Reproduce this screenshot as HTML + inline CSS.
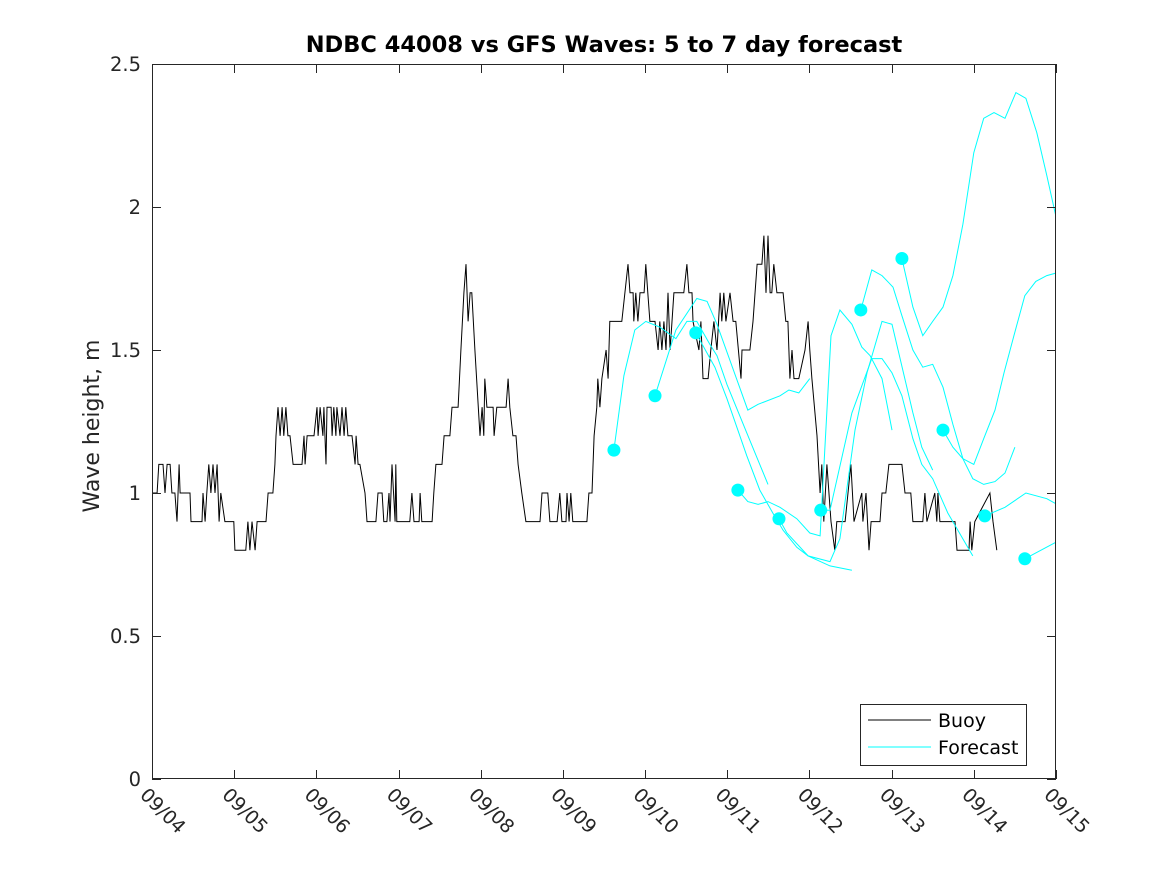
<!DOCTYPE html>
<html><head><meta charset="utf-8"><style>
html,body{margin:0;padding:0;background:#fff;}
svg{display:block;font-family:"DejaVu Sans","Liberation Sans",sans-serif;}
</style></head><body>
<svg id="chart" width="1167" height="875" viewBox="0 0 1167 875" xmlns="http://www.w3.org/2000/svg">
<defs><clipPath id="plotclip"><rect x="152" y="64" width="904" height="715"/></clipPath></defs>
<rect x="0" y="0" width="1167" height="875" fill="#fff"/>
<rect x="152" y="64" width="904" height="715" fill="#fff" stroke="none"/>
<g id="marks" clip-path="url(#plotclip)"></g>
<rect x="152.5" y="64.5" width="903" height="714" fill="none" stroke="#262626" stroke-width="1"/>
<g id="axes"></g>
<text x="604" y="52" text-anchor="middle" font-size="22.5" font-weight="bold" fill="#000">NDBC 44008 vs GFS Waves: 5 to 7 day forecast</text>
<text transform="translate(99,426) rotate(-90)" text-anchor="middle" font-size="22" fill="#262626">Wave height, m</text>
<g>
<rect x="860.5" y="704.5" width="166" height="61" fill="#fff" stroke="#262626" stroke-width="1"/>
<g>
<line x1="868" y1="720" x2="931" y2="720" stroke="#000" stroke-width="1"/>
<text x="938" y="727" font-size="19" fill="#000">Buoy</text></g>
<g>
<line x1="868" y1="747" x2="931" y2="747" stroke="#00ffff" stroke-width="1"/>
<text x="938" y="754" font-size="19" fill="#000">Forecast</text></g>
</g>
</svg>
<script>
// data: hours since 09/04 00:00, wave height (m)
const xTickLabels = ["09/04","09/05","09/06","09/07","09/08","09/09","09/10","09/11","09/12","09/13","09/14","09/15"];
const yTickValues = [0,0.5,1,1.5,2,2.5];
const yTickLabels = ["0","0.5","1","1.5","2","2.5"];
const buoyHours = [0,1.5,2,3.2,3.8,4.4,5.3,5.8,6.7,7.3,7.9,8.2,11.1,11.4,14.6,14.9,15.5,16,16.6,17.2,17.8,18.4,19,19.6,20.1,21.3,23.9,24.2,27.4,28,28.6,29.2,30.1,30.7,33.3,33.9,35.3,35.9,36.2,36.8,37.4,38,38.5,39.1,39.7,40.3,41.2,43.8,44.4,44.7,45.3,47.3,48.2,48.5,49.1,49.9,50.2,50.8,51.1,52.3,52.6,53.1,53.7,54,54.9,55.5,56.1,56.6,57.2,58.4,59.3,59.6,60.2,60.7,62.2,62.8,65.4,66,67.2,67.7,68.6,69.2,69.5,70.1,71,71.2,71.5,75.3,75.9,76.5,78,78.3,78.8,81.8,82.3,82.9,84.7,85.3,87,87.6,89.4,90.2,91.1,91.7,92.3,92.9,93.4,94.3,95.8,96.4,96.9,97.2,97.8,99.6,99.9,100.7,103.4,104,104.5,105.4,106.3,106.9,108,109.2,113.3,113.9,115.6,116.2,118.3,119.1,119.7,120.9,121.2,121.8,122.3,122.9,127,127.6,128.5,129.1,129.9,130.2,130.8,131.4,132.6,133.2,133.7,137.2,138.1,139,139.6,140.5,140.7,141.3,141.9,142.5,143.7,144.2,144.8,145.4,146.9,147.8,148.3,148.9,149.5,150.1,150.7,151.3,152.4,155.3,156.2,156.8,157.7,158,159.7,160.3,160.9,162.4,163.2,164.1,165,165.9,166.4,167,167.6,168.8,169.7,170.5,172,172.3,174.6,175.5,176.7,178.1,178.7,179.3,179.9,180.5,181,181.6,182.5,184.3,185.1,185.7,186.3,186.9,187.5,188.9,190.7,191.6,192.1,192.7,194.2,195.1,195.6,196.2,197.1,198.3,199.4,200,202.4,204.1,205,207.3,207.6,208.5,209.4,210,212.6,213.2,214.3,215.2,219,219.9,221.6,222.2,225.1,225.7,226.3,228.6,229.2,229.5,230.1,234.5,235.1,238.6,238.9,239.4,240.3,244.7,245.6,246.7];
const buoyValues = [1.0,1.0,1.1,1.1,1.0,1.1,1.1,1.0,1.0,0.9,1.1,1.0,1.0,0.9,0.9,1.0,0.9,1.0,1.1,1.0,1.1,1.0,1.1,0.9,1.0,0.9,0.9,0.8,0.8,0.9,0.8,0.9,0.8,0.9,0.9,1.0,1.0,1.1,1.2,1.3,1.2,1.3,1.2,1.3,1.2,1.2,1.1,1.1,1.2,1.1,1.2,1.2,1.3,1.2,1.3,1.2,1.3,1.1,1.3,1.3,1.2,1.3,1.2,1.3,1.2,1.3,1.2,1.3,1.2,1.2,1.1,1.2,1.1,1.1,1.0,0.9,0.9,1.0,1.0,0.9,0.9,1.0,0.9,1.1,0.9,1.1,0.9,0.9,1.0,0.9,0.9,1.0,0.9,0.9,1.0,1.1,1.1,1.2,1.2,1.3,1.3,1.5,1.7,1.8,1.6,1.7,1.7,1.5,1.2,1.3,1.2,1.4,1.3,1.3,1.2,1.3,1.3,1.4,1.3,1.2,1.2,1.1,1.0,0.9,0.9,1.0,1.0,0.9,0.9,1.0,0.9,0.9,1.0,0.9,1.0,0.9,0.9,1.0,1.0,1.2,1.3,1.4,1.3,1.4,1.5,1.4,1.6,1.6,1.7,1.8,1.7,1.7,1.6,1.7,1.6,1.7,1.7,1.8,1.7,1.6,1.6,1.5,1.6,1.5,1.6,1.5,1.7,1.5,1.7,1.7,1.8,1.7,1.7,1.6,1.5,1.6,1.4,1.4,1.5,1.6,1.5,1.7,1.6,1.7,1.6,1.7,1.6,1.6,1.4,1.5,1.5,1.6,1.8,1.8,1.9,1.7,1.9,1.7,1.7,1.8,1.7,1.7,1.6,1.6,1.4,1.5,1.4,1.4,1.5,1.6,1.5,1.4,1.2,1.0,1.1,0.9,1.1,0.9,0.8,0.9,0.9,1.1,0.9,1.0,0.9,1.0,0.8,0.9,0.9,1.0,1.0,1.1,1.1,1.0,1.0,0.9,0.9,1.0,0.9,1.0,0.9,1.0,0.9,0.9,0.8,0.8,0.9,0.8,0.9,1.0,0.9,0.8];

const fcA_h = [134.9,137.8,141,144.2,148.3,153,156.2,159.1,162.9,165,167.9,173.7,179.9];
const fcA_v = [1.15,1.41,1.57,1.60,1.58,1.54,1.60,1.60,1.52,1.48,1.38,1.21,1.03];
const fcB_h = [146.9,153,159.1,162.1,165,174,177,183.4,186,188.9,192.1];
const fcB_v = [1.34,1.57,1.68,1.67,1.59,1.29,1.31,1.34,1.36,1.35,1.40];
const fcC_h = [158.8,164.4,167.9,173.7,177.5,181.3,184.3,188.3,191.6,198,204.4];
const fcC_v = [1.56,1.44,1.33,1.13,1.01,0.93,0.87,0.81,0.78,0.745,0.73];
const fcD_h = [171.1,174,177,179.9,183.4,188.3,192.1,195.1,198.3,200.9,204.4,207.3,209.7,213.2,216.1];
const fcD_v = [1.01,0.97,0.96,0.97,0.95,0.91,0.86,0.85,1.55,1.64,1.59,1.51,1.48,1.40,1.22];
const fcE_h = [183.1,185.4,191.6,198,200.9,205.3,208.8,213.2,216.1,222.2,224.8,228];
const fcE_v = [0.91,0.86,0.78,0.76,0.84,1.22,1.42,1.60,1.59,1.28,1.16,1.08];
const fcF_h = [195.3,198,204.4,210.2,213.2,216.1,219,222.2,224.8,228,232.4,239.7];
const fcF_v = [0.94,0.94,1.28,1.47,1.47,1.42,1.34,1.19,1.10,1.05,0.93,0.78];
const fcG_h = [207,210.2,213.2,216.4,219,222.2,225.1,228,231,233.9,236.8,239.7,242.9,246.2,249.1,252];
const fcG_v = [1.64,1.78,1.76,1.72,1.62,1.50,1.44,1.45,1.37,1.24,1.12,1.05,1.03,1.04,1.07,1.16];
const fcH_h = [219,222.2,225.1,228,231,233.9,236.8,240,242.9,245.9,249.1,252.3,255.2,258.4,261.3,264.3];
const fcH_v = [1.82,1.65,1.55,1.60,1.65,1.76,1.94,2.19,2.31,2.33,2.31,2.40,2.38,2.26,2.11,1.95];
const fcI_h = [231,233.9,236.8,240,242.9,246.2,248.8,251.7,254.9,258.1,261.3,264.3];
const fcI_v = [1.22,1.16,1.12,1.10,1.19,1.29,1.42,1.55,1.69,1.74,1.76,1.77];
const fcJ_h = [243.2,249.1,255.2,261.3,264.3];
const fcJ_v = [0.92,0.95,1.00,0.98,0.96];
const fcK_h = [254.9,264.3];
const fcK_v = [0.77,0.83];

const X0=152, X1=1056, Y0=779, Y1=64, HMAX=264, VMAX=2.5;
function xs(h){return X0+(h/HMAX)*(X1-X0);}
function ys(v){return Y0-(v/VMAX)*(Y0-Y1);}
const NS="http://www.w3.org/2000/svg";
const marks=document.getElementById('marks');
const axes=document.getElementById('axes');
function mk(tag,attrs,parent){const e=document.createElementNS(NS,tag);for(const k in attrs)e.setAttribute(k,attrs[k]);parent.appendChild(e);return e;}
function pts(hs,vs){return hs.map((h,i)=>xs(h).toFixed(1)+','+ys(vs[i]).toFixed(1)).join(' ');}

const buoy=mk('polyline',{points:pts(buoyHours,buoyValues),fill:'none',stroke:'#000','stroke-width':1},marks);



const forecasts=[[fcA_h,fcA_v,'a'],[fcB_h,fcB_v,'b'],[fcC_h,fcC_v,'c'],[fcD_h,fcD_v,'d'],[fcE_h,fcE_v,'e'],[fcF_h,fcF_v,'f'],[fcG_h,fcG_v,'g'],[fcH_h,fcH_v,'h'],[fcI_h,fcI_v,'i'],[fcJ_h,fcJ_v,'j'],[fcK_h,fcK_v,'k']];
forecasts.forEach(f=>{
  const l=mk('polyline',{points:pts(f[0],f[1]),fill:'none',stroke:'#00ffff','stroke-width':1},marks);
  
  
  const c=mk('circle',{cx:xs(f[0][0]),cy:ys(f[1][0]),r:6.5,fill:'#00ffff'},marks);
  
  
});

yTickValues.forEach((v,i)=>{
  const y=Math.round(ys(v))+0.5;
  const t1=mk('line',{x1:152,y1:y,x2:161,y2:y,stroke:'#262626','stroke-width':1},axes);
  
  
  const t2=mk('line',{x1:1047,y1:y,x2:1056,y2:y,stroke:'#262626','stroke-width':1},axes);
  
  
  const tx=mk('text',{x:141,y:ys(v)+7,'text-anchor':'end','font-size':19.5,fill:'#262626'},axes);
  tx.textContent=yTickLabels[i];
  
  
});
xTickLabels.forEach((lab,i)=>{
  const x=Math.round(xs(i*24))+0.5;
  const t1=mk('line',{x1:x,y1:779,x2:x,y2:770,stroke:'#262626','stroke-width':1},axes);
  
  
  const t2=mk('line',{x1:x,y1:64,x2:x,y2:73,stroke:'#262626','stroke-width':1},axes);
  
  
  const tx=mk('text',{transform:'translate('+(xs(i*24)-13)+',796) rotate(45)','font-size':19,fill:'#262626'},axes);
  tx.textContent=lab;
  
  
});
</script>
</body></html>
